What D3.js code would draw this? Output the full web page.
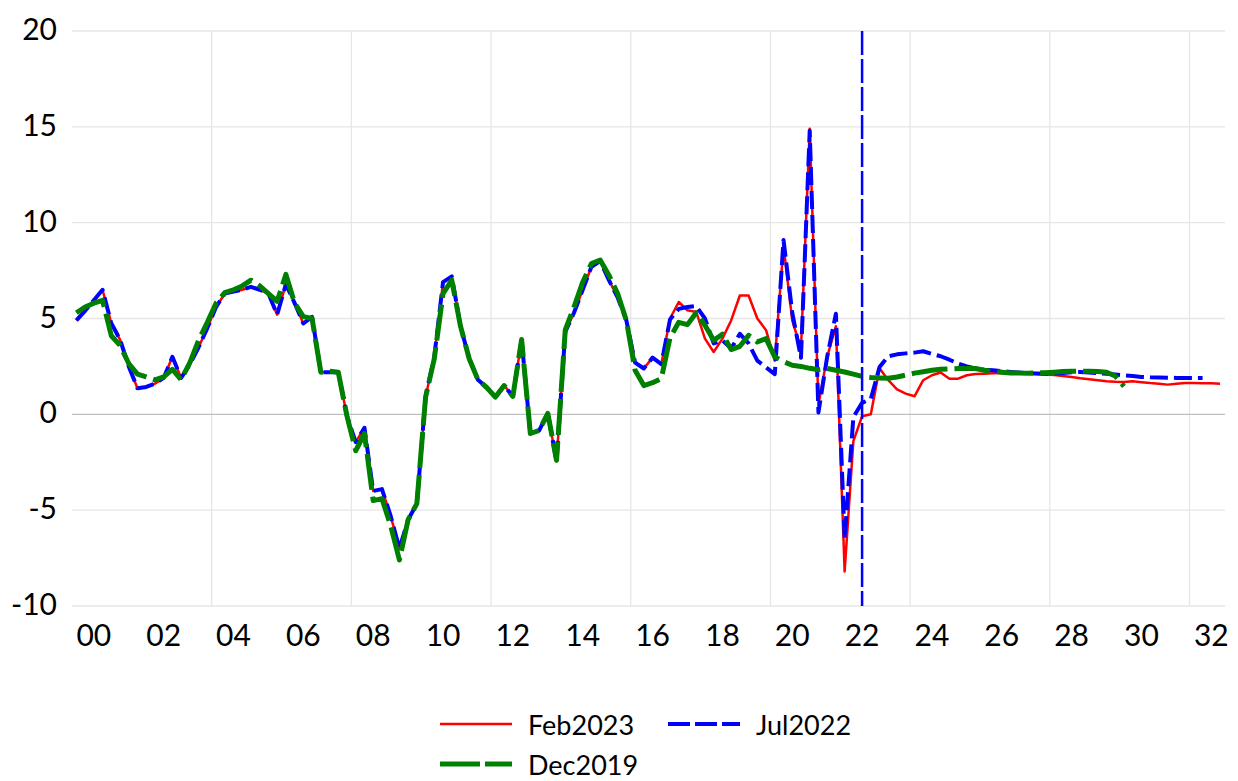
<!DOCTYPE html>
<html>
<head>
<meta charset="utf-8">
<script src="https://cdn.jsdelivr.net/npm/d3@7"></script>
<style>
  html, body { margin: 0; padding: 0; background: #fff; }
  svg { display: block; }
  text { font-family: Lato, "Open Sans", "DejaVu Sans", sans-serif; fill: #000; }
</style>
</head>
<body>
<svg id="chart" width="1238" height="781"></svg>
<script>
// ---------- DATA ----------
const startYear = 2000;
const nQuarters = 132; // 2000Q1 .. 2032Q4
const quarters = [];
for (let i = 0; i < nQuarters; i++) quarters.push((startYear + Math.floor(i / 4)) + "Q" + (i % 4 + 1));

const xTickLabels = ["00","02","04","06","08","10","12","14","16","18","20","22","24","26","28","30","32"];
const yTicks = [-10, -5, 0, 5, 10, 15, 20];

const seriesNames = ["Feb2023", "Jul2022", "Dec2019"];

const feb2023 = [
  4.9,5.4,5.95,6.5,4.75,3.9,2.5,1.36,1.43,1.6,
  1.9,3.0,1.9,2.6,3.5,4.5,5.6,6.3,6.4,6.5,
  6.65,6.5,6.3,5.2,6.8,5.8,4.74,5.08,2.2,2.2,
  2.2,-0.1,-1.45,-0.7,-4.0,-3.9,-5.3,-7.0,-5.5,-4.66,
  0.9,3.0,6.9,7.2,4.6,2.9,1.8,1.4,0.9,1.5,
  0.94,3.9,-1.0,-0.85,0.05,-2.45,4.3,5.3,6.5,7.7,
  8.0,7.0,6.1,4.9,2.7,2.39,2.96,2.62,5.0,5.86,
  5.43,5.34,3.95,3.25,3.95,4.9,6.2,6.2,5.0,4.39,
  2.8,8.8,4.9,3.4,14.9,0.5,3.0,4.6,-8.2,-1.4,
  -0.1,0.0,2.4,1.78,1.3,1.08,0.94,1.78,2.04,2.18,
  1.86,1.86,2.04,2.1,2.12,2.14,2.15,2.15,2.14,2.12,
  2.1,2.08,2.05,2.0,1.95,1.88,1.83,1.78,1.73,1.7,
  1.69,1.72,1.68,1.63,1.6,1.55,1.6,1.63,1.63,1.62,
  1.62,1.6
];

const jul2022 = [
  4.9,5.4,5.95,6.5,4.75,3.9,2.5,1.36,1.43,1.6,
  1.9,3.0,1.9,2.6,3.5,4.5,5.6,6.3,6.4,6.5,
  6.65,6.5,6.3,5.2,6.8,5.8,4.74,5.08,2.2,2.2,
  2.2,-0.1,-1.45,-0.7,-4.0,-3.9,-5.3,-7.0,-5.5,-4.66,
  0.9,3.0,6.9,7.2,4.6,2.9,1.8,1.4,0.9,1.5,
  0.94,3.9,-1.0,-0.85,0.05,-2.45,4.3,5.3,6.5,7.7,
  8.0,7.0,6.1,4.9,2.7,2.39,2.96,2.62,4.95,5.5,
  5.6,5.65,5.0,3.7,3.86,3.43,4.2,3.7,2.8,2.45,
  2.1,9.1,5.3,2.95,14.8,0.1,3.0,5.25,-6.5,-0.15,
  0.6,0.8,2.47,3.03,3.13,3.18,3.22,3.29,3.15,3.03,
  2.85,2.65,2.5,2.39,2.33,2.3,2.25,2.21,2.18,2.15,
  2.13,2.12,2.13,2.16,2.19,2.21,2.18,2.15,2.12,2.08,
  2.04,2.0,1.95,1.93,1.92,1.91,1.9,1.9,1.9,1.9
];

const dec2019 = [
  5.3,5.6,5.8,5.95,4.1,3.6,2.65,2.1,1.95,1.8,
  1.95,2.35,1.8,2.7,3.86,4.8,5.8,6.35,6.5,6.7,
  7.0,6.7,6.3,5.9,7.3,5.8,5.1,5.0,2.2,2.25,
  2.2,-0.1,-1.9,-1.0,-4.5,-4.4,-5.8,-7.6,-5.5,-4.66,
  0.9,2.9,6.3,7.0,4.6,2.9,1.8,1.4,0.9,1.5,
  0.94,3.9,-1.0,-0.85,0.05,-2.4,4.4,5.6,6.9,7.87,
  8.05,7.26,6.3,4.9,2.3,1.5,1.65,1.86,4.0,4.8,
  4.68,5.3,4.65,3.86,4.18,3.38,3.55,4.12,3.78,3.95,
  3.0,2.75,2.56,2.5,2.4,2.33,2.39,2.3,2.21,2.1,
  1.98,1.92,1.9,1.88,1.95,2.05,2.15,2.22,2.3,2.35,
  2.37,2.39,2.39,2.39,2.3,2.25,2.2,2.16,2.15,2.15,
  2.16,2.17,2.2,2.23,2.25,2.25,2.25,2.23,2.2,2.0,
  1.46
];

const markerQuarter = "2022Q3"; // vertical dashed line

// ---------- CHART ----------
const svg = d3.select("#chart");
svg.append("rect").attr("width", 1238).attr("height", 781).attr("fill", "#fff");

const plot = { left: 72, right: 1224.4, top: 31, bottom: 606 };

const x = d3.scaleLinear().domain([-0.5, nQuarters - 0.5]).range([plot.left, plot.right]);
const y = d3.scaleLinear().domain([-10, 20]).range([plot.bottom, plot.top]);

// horizontal gridlines
svg.append("g").selectAll("line").data(yTicks.filter(d => d !== 0)).join("line")
  .attr("x1", plot.left).attr("x2", 1225)
  .attr("y1", d => y(d)).attr("y2", d => y(d))
  .attr("stroke", "#e6e6e6").attr("stroke-width", 1.3);

// vertical gridlines every 4 years (category boundaries)
const vGrid = d3.range(16, nQuarters + 1, 16);
svg.append("g").selectAll("line").data(vGrid).join("line")
  .attr("x1", d => x(d - 0.5)).attr("x2", d => x(d - 0.5))
  .attr("y1", plot.top).attr("y2", plot.bottom)
  .attr("stroke", "#e6e6e6").attr("stroke-width", 1.3);

// zero line
svg.append("line")
  .attr("x1", plot.left).attr("x2", 1225)
  .attr("y1", y(0)).attr("y2", y(0))
  .attr("stroke", "#bfbfbf").attr("stroke-width", 1.3);

// y labels
svg.append("g").selectAll("text").data(yTicks).join("text")
  .attr("x", 57).attr("y", d => y(d) - 3)
  .attr("text-anchor", "end").attr("dominant-baseline", "central")
  .attr("font-size", 30)
  .text(d => d);

// x labels: centred on the third quarter of every second year
svg.append("g").selectAll("text").data(xTickLabels).join("text")
  .attr("x", (d, k) => x(k * 8 + 2))
  .attr("y", 634)
  .attr("text-anchor", "middle").attr("dominant-baseline", "central")
  .attr("font-size", 30)
  .text(d => d);

const line = d3.line().x((d, i) => x(i)).y(d => y(d));

// red solid
svg.append("path").datum(feb2023).attr("d", line)
  .attr("fill", "none").attr("stroke", "#ff0000").attr("stroke-width", 2.5)
  .attr("stroke-linejoin", "round");
// blue dashed
svg.append("path").datum(jul2022).attr("d", line)
  .attr("fill", "none").attr("stroke", "#0000ff").attr("stroke-width", 4)
  .attr("stroke-dasharray", "18,6").attr("stroke-linejoin", "round");
// green long dash
svg.append("path").datum(dec2019).attr("d", line)
  .attr("fill", "none").attr("stroke", "#008000").attr("stroke-width", 5)
  .attr("stroke-dasharray", "36,7").attr("stroke-linejoin", "round");

// vertical marker
const mi = quarters.indexOf(markerQuarter);
svg.append("line")
  .attr("x1", x(mi)).attr("x2", x(mi))
  .attr("y1", plot.top).attr("y2", plot.bottom)
  .attr("stroke", "#0000ff").attr("stroke-width", 2.5)
  .attr("stroke-dasharray", "24,4");

// legend
const legendItems = [
  { name: seriesNames[0], color: "#ff0000", width: 2.5, dash: null, lx: 440, ly: 724 },
  { name: seriesNames[1], color: "#0000ff", width: 4, dash: "22,5", lx: 668, ly: 724 },
  { name: seriesNames[2], color: "#008000", width: 5, dash: "40,5", lx: 440, ly: 764 }
];
const lg = svg.append("g");
legendItems.forEach(it => {
  const l = lg.append("line")
    .attr("x1", it.lx).attr("x2", it.lx + 72)
    .attr("y1", it.ly).attr("y2", it.ly)
    .attr("stroke", it.color).attr("stroke-width", it.width);
  if (it.dash) l.attr("stroke-dasharray", it.dash);
  lg.append("text")
    .attr("x", it.lx + 88).attr("y", it.ly)
    .attr("dominant-baseline", "central")
    .attr("font-size", 27)
    .text(it.name);
});
</script>
</body>
</html>
